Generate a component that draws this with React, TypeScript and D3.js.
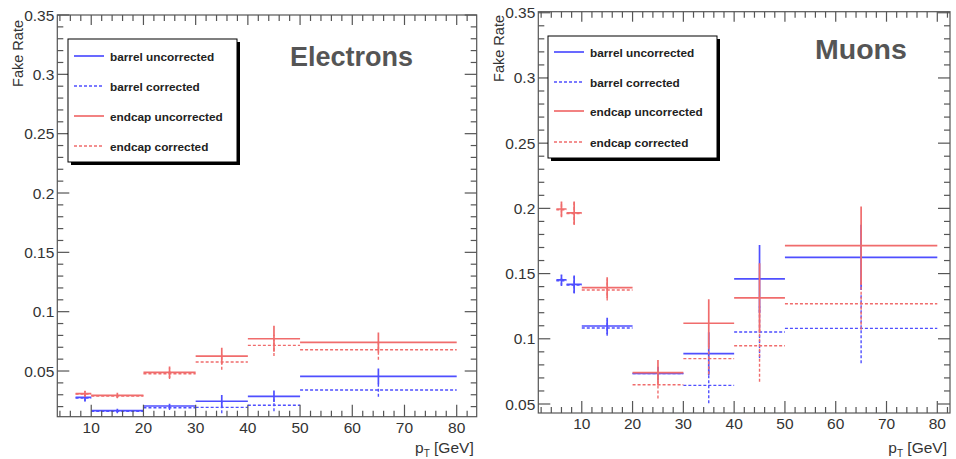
import React from "react";
import * as d3 from "d3";

const FONT = "'Liberation Sans', Arial, Helvetica, sans-serif";
const BLUE = "#4f4fff";
const RED = "#f06c6c";
const AXIS = "#555";

// ---- Electrons ----
const elecBinLow = [7, 10, 20, 30, 40, 50];
const elecBinHigh = [10, 20, 30, 40, 50, 80];
const elecPt = [8.8, 15, 25, 35, 45, 65];
const elecBarrelUnc = [0.0278, 0.0166, 0.0205, 0.0245, 0.0287, 0.0455];
const elecBarrelUncErr = [0.003, 0.0015, 0.002, 0.0053, 0.0048, 0.0066];
const elecBarrelCor = [0.0272, 0.016, 0.0191, 0.0194, 0.0211, 0.034];
const elecBarrelCorErr = [0.003, 0.0015, 0.002, 0.005, 0.005, 0.0056];
const elecEndcapUnc = [0.0309, 0.0295, 0.0489, 0.0626, 0.0772, 0.0741];
const elecEndcapUncErr = [0.0025, 0.0022, 0.0048, 0.007, 0.011, 0.0084];
const elecEndcapCor = [0.0305, 0.029, 0.0477, 0.0576, 0.0716, 0.0679];
const elecEndcapCorErr = [0.0025, 0.002, 0.0045, 0.0065, 0.009, 0.0084];

// ---- Muons ----
const muonBinLow = [5, 7, 10, 20, 30, 40, 50];
const muonBinHigh = [7, 10, 20, 30, 40, 50, 80];
const muonPt = [6, 8.5, 15, 25, 35, 45, 65];
const muonBarrelUnc = [0.1451, 0.1418, 0.1098, 0.0735, 0.0886, 0.1459, 0.1625];
const muonBarrelUncErr = [0.0042, 0.0067, 0.0064, 0.005, 0.0164, 0.026, 0.025];
const muonBarrelCor = [0.1445, 0.1412, 0.1083, 0.0733, 0.0643, 0.1052, 0.108];
const muonBarrelCorErr = [0.004, 0.0065, 0.006, 0.005, 0.0138, 0.02, 0.0268];
const muonEndcapUnc = [0.1995, 0.1965, 0.1392, 0.074, 0.1119, 0.1313, 0.1714];
const muonEndcapUncErr = [0.0058, 0.0087, 0.008, 0.0097, 0.0184, 0.0266, 0.03];
const muonEndcapCor = [0.199, 0.196, 0.1374, 0.0648, 0.0848, 0.0947, 0.1269];
const muonEndcapCorErr = [0.0058, 0.0087, 0.008, 0.0105, 0.012, 0.0276, 0.02];

const legendLabels = [
  "barrel uncorrected",
  "barrel corrected",
  "endcap uncorrected",
  "endcap corrected",
];
const legendColors = [BLUE, BLUE, RED, RED];
const legendDashed = [false, true, false, true];

const xMajorTicks = [10, 20, 30, 40, 50, 60, 70, 80];
const yMajorTicks = [0.05, 0.1, 0.15, 0.2, 0.25, 0.3, 0.35];
const yTickLabels = ["0.05", "0.1", "0.15", "0.2", "0.25", "0.3", "0.35"];

type Series = {
  values: number[];
  errors: number[];
  color: string;
  dashed: boolean;
};

type PanelProps = {
  frame: { left: number; right: number; top: number; bottom: number };
  xDomain: [number, number];
  yDomain: [number, number];
  binLow: number[];
  binHigh: number[];
  pt: number[];
  series: Series[];
  title: string;
  titlePos: [number, number];
  titleSize: number;
  legendBox: { x: number; y: number; w: number; h: number };
  legendRows: number[];
  yTitlePos: [number, number];
  id: string;
};

function Panel(p: PanelProps) {
  const { frame } = p;
  const x = d3.scaleLinear().domain(p.xDomain).range([frame.left, frame.right]);
  const y = d3.scaleLinear().domain(p.yDomain).range([frame.bottom, frame.top]);

  const xMinor = d3
    .range(0, 100, 2)
    .filter((v) => v > p.xDomain[0] && v < p.xDomain[1] && v % 10 !== 0);
  const yMinor = d3
    .range(0, 40)
    .map((i) => i / 100)
    .filter((v) => v > p.yDomain[0] && v < p.yDomain[1] && Math.round(v * 100) % 5 !== 0);

  const majLen = 12;
  const minLen = 6;
  const clipId = `clip-${p.id}`;

  return (
    <g>
      <defs>
        <clipPath id={clipId}>
          <rect
            x={frame.left}
            y={frame.top}
            width={frame.right - frame.left}
            height={frame.bottom - frame.top}
          />
        </clipPath>
      </defs>

      {/* data: horizontal bin widths and vertical error bars */}
      <g clipPath={`url(#${clipId})`}>
        {p.series.map((s, si) => (
          <g
            key={si}
            stroke={s.color}
            strokeWidth={s.dashed ? 1.4 : 1.7}
            strokeDasharray={s.dashed ? "3 2" : undefined}
            fill="none"
          >
            {s.values.map((v, i) => (
              <g key={i}>
                <line x1={x(p.binLow[i])} x2={x(p.binHigh[i])} y1={y(v)} y2={y(v)} />
                <line
                  x1={x(p.pt[i])}
                  x2={x(p.pt[i])}
                  y1={y(v - s.errors[i])}
                  y2={y(v + s.errors[i])}
                />
              </g>
            ))}
          </g>
        ))}
      </g>

      {/* frame */}
      <rect
        x={frame.left}
        y={frame.top}
        width={frame.right - frame.left}
        height={frame.bottom - frame.top}
        fill="none"
        stroke={AXIS}
        strokeWidth={1.2}
      />

      {/* ticks */}
      <g stroke={AXIS} strokeWidth={1.2}>
        {xMajorTicks.map((t) => (
          <g key={`xM${t}`}>
            <line x1={x(t)} x2={x(t)} y1={frame.bottom} y2={frame.bottom - majLen} />
            <line x1={x(t)} x2={x(t)} y1={frame.top} y2={frame.top + majLen - 2} />
          </g>
        ))}
        {xMinor.map((t) => (
          <g key={`xm${t}`}>
            <line x1={x(t)} x2={x(t)} y1={frame.bottom} y2={frame.bottom - minLen} />
            <line x1={x(t)} x2={x(t)} y1={frame.top} y2={frame.top + minLen} />
          </g>
        ))}
        {yMajorTicks.map((t) => (
          <g key={`yM${t}`}>
            <line x1={frame.left} x2={frame.left + majLen} y1={y(t)} y2={y(t)} />
            <line x1={frame.right} x2={frame.right - majLen} y1={y(t)} y2={y(t)} />
          </g>
        ))}
        {yMinor.map((t) => (
          <g key={`ym${t}`}>
            <line x1={frame.left} x2={frame.left + minLen} y1={y(t)} y2={y(t)} />
            <line x1={frame.right} x2={frame.right - minLen} y1={y(t)} y2={y(t)} />
          </g>
        ))}
      </g>

      {/* tick labels */}
      <g fontFamily={FONT} fontSize={15.5} fill="#333">
        {xMajorTicks.map((t) => (
          <text key={`xl${t}`} x={x(t)} y={frame.bottom + 16} textAnchor="middle">
            {t}
          </text>
        ))}
        {yMajorTicks.map((t, i) => (
          <text
            key={`yl${t}`}
            x={frame.left - 3}
            y={y(t) + 5.5}
            textAnchor="end"
          >
            {yTickLabels[i]}
          </text>
        ))}
      </g>

      {/* axis titles */}
      <text
        transform={`translate(${p.yTitlePos[0]},${p.yTitlePos[1]}) rotate(-90)`}
        textAnchor="end"
        fontFamily={FONT}
        fontSize={14.5}
        fill="#333"
      >
        Fake Rate
      </text>
      <text
        x={frame.right - 3}
        y={453}
        textAnchor="end"
        fontFamily={FONT}
        fontSize={15.5}
        fill="#333"
      >
        p
        <tspan fontSize={10} dy={4}>
          T
        </tspan>
        <tspan dy={-4}> [GeV]</tspan>
      </text>

      {/* title */}
      <text
        x={p.titlePos[0]}
        y={p.titlePos[1]}
        fontFamily={FONT}
        fontWeight="bold"
        fontSize={p.titleSize}
        fill="#555"
      >
        {p.title}
      </text>

      {/* legend */}
      <rect
        x={p.legendBox.x + 3}
        y={p.legendBox.y + 3}
        width={p.legendBox.w}
        height={p.legendBox.h}
        fill="#000"
      />
      <rect
        x={p.legendBox.x}
        y={p.legendBox.y}
        width={p.legendBox.w}
        height={p.legendBox.h}
        fill="#fff"
        stroke="#000"
        strokeWidth={1}
      />
      {legendLabels.map((label, i) => {
        const ly = p.legendBox.y + p.legendRows[i];
        return (
          <g key={label}>
            <line
              x1={p.legendBox.x + 6}
              x2={p.legendBox.x + 36}
              y1={ly}
              y2={ly}
              stroke={legendColors[i]}
              strokeWidth={legendDashed[i] ? 1.4 : 1.7}
              strokeDasharray={legendDashed[i] ? "3 2" : undefined}
            />
            <text
              x={p.legendBox.x + 42}
              y={ly + 4.5}
              fontFamily={FONT}
              fontWeight="bold"
              fontSize={11.8}
              fill="#222"
            >
              {label}
            </text>
          </g>
        );
      })}
    </g>
  );
}

export default function App() {
  const elecSeries: Series[] = [
    { values: elecBarrelUnc, errors: elecBarrelUncErr, color: BLUE, dashed: false },
    { values: elecBarrelCor, errors: elecBarrelCorErr, color: BLUE, dashed: true },
    { values: elecEndcapUnc, errors: elecEndcapUncErr, color: RED, dashed: false },
    { values: elecEndcapCor, errors: elecEndcapCorErr, color: RED, dashed: true },
  ];
  const muonSeries: Series[] = [
    { values: muonBarrelUnc, errors: muonBarrelUncErr, color: BLUE, dashed: false },
    { values: muonBarrelCor, errors: muonBarrelCorErr, color: BLUE, dashed: true },
    { values: muonEndcapUnc, errors: muonEndcapUncErr, color: RED, dashed: false },
    { values: muonEndcapCor, errors: muonEndcapCorErr, color: RED, dashed: true },
  ];

  return (
    <svg
      width={956}
      height={459}
      style={{ position: "absolute", left: 0, top: 0, background: "#fff" }}
    >
      <Panel
        id="elec"
        frame={{ left: 57.3, right: 476.7, top: 15, bottom: 416.7 }}
        xDomain={[3.5, 83.83]}
        yDomain={[0.0115, 0.35]}
        binLow={elecBinLow}
        binHigh={elecBinHigh}
        pt={elecPt}
        series={elecSeries}
        title="Electrons"
        titlePos={[290, 66]}
        titleSize={27}
        legendBox={{ x: 68, y: 39, w: 169, h: 123 }}
        legendRows={[17, 47, 77, 107]}
        yTitlePos={[23, 20]}
      />
      <Panel
        id="muon"
        frame={{ left: 538.3, right: 950, top: 11.7, bottom: 413 }}
        xDomain={[1.44, 82.5]}
        yDomain={[0.0431, 0.3508]}
        binLow={muonBinLow}
        binHigh={muonBinHigh}
        pt={muonPt}
        series={muonSeries}
        title="Muons"
        titlePos={[815, 59]}
        titleSize={28.5}
        legendBox={{ x: 548, y: 36, w: 169, h: 122 }}
        legendRows={[16, 46, 75, 106]}
        yTitlePos={[503.5, 15]}
      />
    </svg>
  );
}
